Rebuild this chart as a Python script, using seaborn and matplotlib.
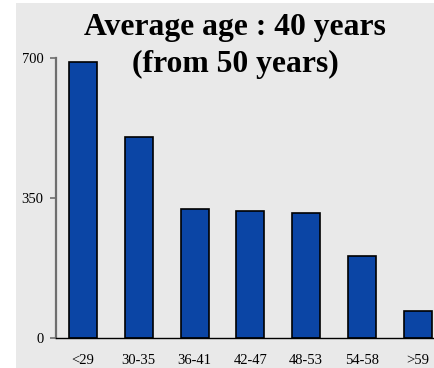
import matplotlib
matplotlib.use("Agg")
import matplotlib.pyplot as plt
from matplotlib.patches import Rectangle
import seaborn as sns
import pandas as pd

# Age bands and head counts
age_groups = ["<29", "30-35", "36-41", "42-47", "48-53", "54-58", ">59"]
counts = [690, 502, 324, 319, 312, 205, 68]
y_ticks = [0, 350, 700]

df = pd.DataFrame({"age": age_groups, "count": counts})

sns.set_theme(style="white")
plt.rcParams["font.family"] = ["Liberation Serif", "DejaVu Serif"]

W, H = 435, 368
fig = plt.figure(figsize=(W / 100, H / 100), dpi=100, facecolor="white")

# light grey panel behind the chart
fig.patches.append(Rectangle((16 / W, 0), 1 - 16 / W, 1 - 3 / H,
                             transform=fig.transFigure, facecolor="#e9e9e9",
                             edgecolor="none", zorder=-5))

ax = fig.add_axes([56 / W, (H - 338.3) / H, (W - 56) / W, (338.3 - 58) / H])
ax.set_facecolor("none")
ax.set_zorder(2)

sns.barplot(data=df, x="age", y="count", order=age_groups, color="#0b45a5",
            saturation=1, width=0.5, edgecolor="black", linewidth=1.2, ax=ax)

ax.set_ylim(0, 700)
ax.set_xlim(-27 / 55.8, -27 / 55.8 + (W - 56) / 55.8)
ax.set_yticks(y_ticks)
ax.set_yticklabels([str(v) for v in y_ticks])
ax.set_xlabel("")
ax.set_ylabel("")

for side in ["top", "right"]:
    ax.spines[side].set_visible(False)
ax.spines["left"].set_color("#6e6e6e")
ax.spines["left"].set_linewidth(1.6)
ax.spines["bottom"].set_color("black")
ax.spines["bottom"].set_linewidth(1.0)

ax.tick_params(axis="y", left=True, length=4, width=1.2, color="#6e6e6e",
               pad=5, labelsize=10.5, labelcolor="black")
ax.tick_params(axis="x", bottom=False, length=0, pad=11, labelsize=10.5,
               labelcolor="black")

fig.text(235 / W, 1 - 35 / H, "Average age : 40 years", ha="center",
         va="baseline", fontsize=22.8, fontweight="bold", color="black")
fig.text(235 / W, 1 - 72 / H, "(from 50 years)", ha="center",
         va="baseline", fontsize=22.8, fontweight="bold", color="black")

fig.savefig("out.png", dpi=100, facecolor="white")
